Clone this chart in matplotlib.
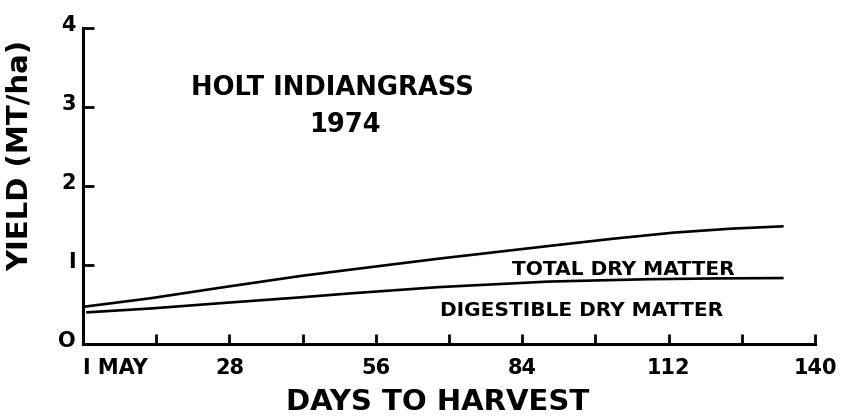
import matplotlib
matplotlib.use("Agg")
import matplotlib.pyplot as plt
from matplotlib.transforms import ScaledTranslation

# Data
days_total = [0, 13, 27, 41.5, 51, 68, 89, 101, 113, 124, 134]
total_dm = [0.47, 0.58, 0.72, 0.86, 0.94, 1.08, 1.24, 1.33, 1.41, 1.46, 1.49]
days_dig = [0.6, 13, 27, 41.5, 51, 68, 89, 108, 121, 134]
digestible_dm = [0.40, 0.45, 0.52, 0.59, 0.64, 0.72, 0.79, 0.82, 0.83, 0.835]

x_ticks = [0, 14, 28, 42, 56, 70, 84, 98, 112, 126, 140]
x_tick_labels = ["I MAY", "", "28", "", "56", "", "84", "", "112", "", "140"]
y_ticks = [0, 1, 2, 3, 4]
y_tick_labels = ["O", "I", "2", "3", "4"]

plt.rcParams['font.family'] = ['DejaVu Sans']

fig = plt.figure(figsize=(8.42, 4.19), dpi=100)
ax = fig.add_axes([83/842, 1-344/419, (815-83)/842, (344-28)/419])

ax.plot(days_total, total_dm, color='black', lw=1.9, solid_capstyle='butt')
ax.plot(days_dig, digestible_dm, color='black', lw=1.9, solid_capstyle='butt')

ax.set_xlim(0, 140)
ax.set_ylim(0, 4)
for s in ['top', 'right']:
    ax.spines[s].set_visible(False)
for s in ['left', 'bottom']:
    ax.spines[s].set_linewidth(2.2)

ax.set_xticks(x_ticks)
ax.set_xticklabels(x_tick_labels, fontsize=15, fontweight='bold')
ax.set_yticks(y_ticks)
ax.set_yticklabels(y_tick_labels, fontsize=15, fontweight='bold')
ax.tick_params(axis='x', direction='in', length=7, width=2.0, pad=10)
ax.tick_params(axis='y', direction='in', length=8, width=2.0, pad=5)

labs = ax.get_xticklabels()
labs[0].set_ha('left')
for lab in ax.get_yticklabels():
    lab.set_transform(lab.get_transform() + ScaledTranslation(0, 5/100, fig.dpi_scale_trans))

ax.set_xlabel("DAYS TO HARVEST", fontsize=21, fontweight='bold')
ax.xaxis.set_label_coords(0.485, -0.14)
ax.set_ylabel("YIELD (MT/ha)", fontsize=21, fontweight='bold')
ax.yaxis.set_label_coords(-0.066, 0.598)

ax.text(47.8, 3.24, "HOLT INDIANGRASS", fontsize=18.5, fontweight='bold', ha='center', va='center')
ax.text(50, 2.77, "1974", fontsize=18.5, fontweight='bold', ha='center', va='center')
ax.text(103.3, 0.94, "TOTAL DRY MATTER", fontsize=14.5, fontweight='bold', ha='center', va='center')
ax.text(95.4, 0.43, "DIGESTIBLE DRY MATTER", fontsize=14.5, fontweight='bold', ha='center', va='center')

fig.savefig("out.png", dpi=100)
